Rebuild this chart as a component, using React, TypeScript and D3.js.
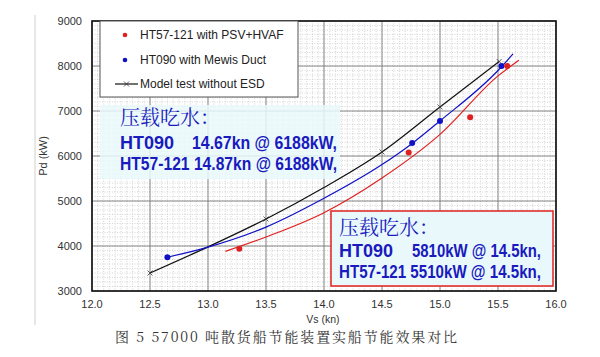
import React from "react";
import * as d3 from "d3";

const xTicks = [12.0, 12.5, 13.0, 13.5, 14.0, 14.5, 15.0, 15.5, 16.0];
const yTicks = [3000, 4000, 5000, 6000, 7000, 8000, 9000];

const modelX = [12.5, 13.0, 13.5, 14.0, 14.5, 15.0, 15.51];
const modelY = [3400, 3980, 4600, 5300, 6090, 7090, 8100];
const modelMarkX = [12.5, 13.5, 14.5, 15.0, 15.51];
const modelMarkY = [3400, 4600, 6090, 7090, 8100];

const blueLineX = [12.65, 13.0, 13.5, 14.0, 14.5, 14.76, 15.0, 15.5, 15.63];
const blueLineY = [3750, 3975, 4420, 5060, 5810, 6280, 6780, 7900, 8270];
const blueDotX = [12.65, 14.76, 15.0, 15.53];
const blueDotY = [3750, 6290, 6780, 8000];

const redLineX = [13.15, 13.5, 14.0, 14.5, 15.0, 15.5, 15.68];
const redLineY = [3880, 4200, 4740, 5510, 6480, 7780, 8130];
const redDotX = [13.27, 14.73, 15.26, 15.58];
const redDotY = [3940, 6080, 6860, 8000];

const legendLabels = ["HT57-121 with PSV+HVAF", "HT090 with Mewis Duct", "Model test without ESD"];
const note1 = ["压载吃水：", "HT090", "14.67kn @ 6188kW,", "HT57-121 14.87kn @ 6188kW,"];
const note2 = ["压载吃水：", "HT090", "5810kW @ 14.5kn,", "HT57-121 5510kW @ 14.5kn,"];
const caption = "图 5 57000 吨散货船节能装置实船节能效果对比";

const L = 92, R = 556, T = 21, B = 291;
const BLUE = "#1010c8";
const RED = "#e02020";
const TXT = "#1a1abf";
const FILL = "#e9f9fb";

export default function App() {
  const x = d3.scaleLinear().domain([12, 16]).range([L, R]);
  const y = d3.scaleLinear().domain([3000, 9000]).range([B, T]);
  const line = d3
    .line<[number, number]>()
    .x((d) => x(d[0]))
    .y((d) => y(d[1]))
    .curve(d3.curveMonotoneX);
  const zip = (a: number[], b: number[]) => a.map((v, i) => [v, b[i]] as [number, number]);

  const minorX = d3.range(12, 16.0001, 0.05).map((v) => +v.toFixed(2));
  const minorY = d3.range(3000, 9001, 100);

  const narrow = "'Liberation Sans Narrow', 'Arial Narrow', 'Liberation Sans', Arial, sans-serif";
  const sans = "'Liberation Sans', Arial, Helvetica, sans-serif";
  const cjkSerif = "'Noto Serif CJK SC', 'Noto Sans CJK SC', serif";

  return (
    <svg width={600} height={357} style={{ position: "absolute", left: 0, top: 0, background: "#fff" }}>
      <rect x={0} y={0} width={600} height={357} fill="#fff" />
      <line x1={35} x2={35} y1={15} y2={325} stroke="#e6e8e6" strokeWidth={2} />
      {/* minor grid */}
      <g stroke="#c4c4c4" strokeWidth={0.7} strokeDasharray="1,1.5">
        {minorX.map((v, i) => (
          <line key={"mx" + i} x1={x(v)} x2={x(v)} y1={T} y2={B} />
        ))}
        {minorY.map((v, i) => (
          <line key={"my" + i} x1={L} x2={R} y1={y(v)} y2={y(v)} />
        ))}
      </g>
      {/* major grid */}
      <g stroke="#7a7a7a" strokeWidth={0.9}>
        {xTicks.map((v, i) => (
          <line key={"gx" + i} x1={x(v)} x2={x(v)} y1={T} y2={B} />
        ))}
        {yTicks.map((v, i) => (
          <line key={"gy" + i} x1={L} x2={R} y1={y(v)} y2={y(v)} />
        ))}
      </g>
      {/* upper note background */}
      <rect x={100} y={105} width={240} height={74} fill={FILL} opacity={0.85} />
      {/* lower note box */}
      <rect x={331} y={211} width={222} height={75} fill={FILL} stroke={RED} strokeWidth={1.5} />
      {/* frame */}
      <rect x={L} y={T} width={R - L} height={B - T} fill="none" stroke="#111" strokeWidth={1.6} />
      {/* series */}
      <path d={line(zip(modelX, modelY)) || ""} fill="none" stroke="#111" strokeWidth={1.2} />
      {modelMarkX.map((v, i) => {
        const cx = x(v), cy = y(modelMarkY[i]);
        return (
          <g key={"mm" + i} stroke="#333" strokeWidth={0.8}>
            <line x1={cx - 2.5} x2={cx + 2.5} y1={cy - 2.5} y2={cy + 2.5} />
            <line x1={cx - 2.5} x2={cx + 2.5} y1={cy + 2.5} y2={cy - 2.5} />
          </g>
        );
      })}
      <path d={line(zip(blueLineX, blueLineY)) || ""} fill="none" stroke={BLUE} strokeWidth={1.2} />
      <path d={line(zip(redLineX, redLineY)) || ""} fill="none" stroke={RED} strokeWidth={1.2} />
      {blueDotX.map((v, i) => (
        <circle key={"bd" + i} cx={x(v)} cy={y(blueDotY[i])} r={3} fill={BLUE} />
      ))}
      {redDotX.map((v, i) => (
        <circle key={"rd" + i} cx={x(v)} cy={y(redDotY[i])} r={3} fill={RED} />
      ))}
      {/* legend */}
      <rect x={100} y={21} width={198} height={76} fill="#fff" stroke="#555" strokeWidth={1} />
      <circle cx={125} cy={35} r={2.3} fill={RED} />
      <circle cx={125} cy={60} r={2.3} fill={BLUE} />
      <line x1={115} x2={138} y1={84} y2={84} stroke="#111" strokeWidth={1.2} />
      <g stroke="#333" strokeWidth={0.8}>
        <line x1={124} x2={129} y1={81.5} y2={86.5} />
        <line x1={124} x2={129} y1={86.5} y2={81.5} />
      </g>
      <g fontFamily={sans} fontSize={12} fill="#222">
        <text x={140} y={39}>{legendLabels[0]}</text>
        <text x={140} y={64}>{legendLabels[1]}</text>
        <text x={140} y={88}>{legendLabels[2]}</text>
      </g>
      {/* notes */}
      <g fill={TXT}>
        <text x={120} y={125} fontFamily={cjkSerif} fontSize={20}>{note1[0]}</text>
        <text x={120} y={149} fontFamily={narrow} fontWeight="bold" fontSize={18}>{note1[1]}</text>
        <text x={192} y={149} fontFamily={narrow} fontWeight="bold" fontSize={18} textLength={145} lengthAdjust="spacingAndGlyphs">{note1[2]}</text>
        <text x={120} y={170} fontFamily={narrow} fontWeight="bold" fontSize={18} textLength={217} lengthAdjust="spacingAndGlyphs">{note1[3]}</text>
        <text x={339} y={235} fontFamily={cjkSerif} fontSize={20}>{note2[0]}</text>
        <text x={339} y={257} fontFamily={narrow} fontWeight="bold" fontSize={18}>{note2[1]}</text>
        <text x={412} y={257} fontFamily={narrow} fontWeight="bold" fontSize={18} textLength={129} lengthAdjust="spacingAndGlyphs">{note2[2]}</text>
        <text x={339} y={278} fontFamily={narrow} fontWeight="bold" fontSize={18} textLength={202} lengthAdjust="spacingAndGlyphs">{note2[3]}</text>
      </g>
      {/* axes labels */}
      <g fontFamily={sans} fontSize={11} fill="#333">
        {yTicks.map((v, i) => (
          <text key={"yt" + i} x={82} y={y(v) + 4} textAnchor="end">{v}</text>
        ))}
        {xTicks.map((v, i) => (
          <text key={"xt" + i} x={x(v)} y={308} textAnchor="middle">{v.toFixed(1)}</text>
        ))}
        <text x={323} y={323} textAnchor="middle" fontSize={10.5}>Vs (kn)</text>
        <text transform={`translate(47,${(T + B) / 2}) rotate(-90)`} textAnchor="middle">Pd (kW)</text>
      </g>
      <text x={115} y={342} fontFamily={cjkSerif} fontSize={14} fill="#333" textLength={342} lengthAdjust="spacing">{caption}</text>
    </svg>
  );
}
